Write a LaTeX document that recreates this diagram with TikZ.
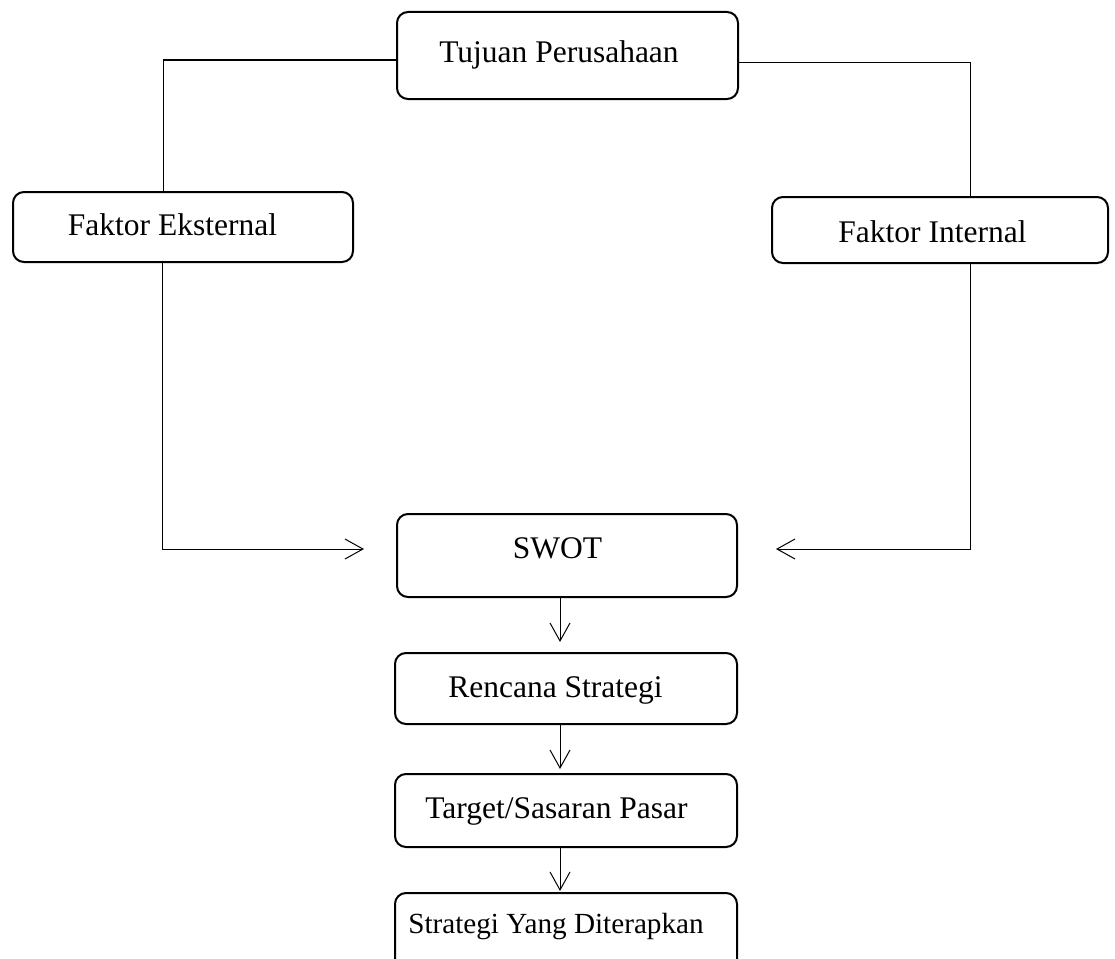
\documentclass[tikz,border=0pt]{standalone}
\usepackage{fontspec}
\setmainfont{Liberation Serif}
\usetikzlibrary{arrows.meta}
\tikzset{
  box/.style={draw, line width=2pt, rounded corners=11pt, inner sep=0pt},
  lbl/.style={anchor=base, inner sep=0pt, font=\fontsize{31.5}{36}\selectfont},
  conn/.style={line width=1pt},
  arr/.style={line width=1pt, -{Straight Barb[length=18pt,width=20pt,line width=1pt]}},
}
\begin{document}
\begin{tikzpicture}[x=1pt,y=-1pt]
\useasboundingbox (0,0) rectangle (1115,958);
\clip (0,0) rectangle (1115,958);
% boxes
\node[box, minimum width=341pt, minimum height=87pt] (top) at (567.5,55.5) {};
\node[box, minimum width=340pt, minimum height=70pt] (ext) at (183,227) {};
\node[box, minimum width=336pt, minimum height=66pt] (int) at (940,230) {};
\node[box, minimum width=340pt, minimum height=83pt] (swot) at (567,555.5) {};
\node[box, minimum width=342pt, minimum height=71pt] (ren) at (566,688.5) {};
\node[box, minimum width=342pt, minimum height=73pt] (tgt) at (566,810.5) {};
\node[box, minimum width=342pt, minimum height=90pt] (str) at (566,938) {};
% labels
\node[lbl] (ttop) at (559,63) {Tujuan Perusahaan};
\node[lbl] (text) at (172.5,235) {Faktor Eksternal};
\node[lbl] (tint) at (932.5,242) {Faktor Internal};
\node[lbl] (tswot) at (557.5,558) {SWOT};
\node[lbl] (tren) at (555.5,697) {Rencana Strategi};
\node[lbl] (ttgt) at (556.5,818) {Target/Sasaran Pasar};
\node[lbl, font=\fontsize{29.2}{34}\selectfont] (tstr) at (556,933) {Strategi Yang Diterapkan};
% coordinates
\coordinate (L1) at (163,60);
\coordinate (R1) at (970,62);
\coordinate (L2) at (162,549);
\coordinate (R2) at (970,549);
\coordinate (V) at (560,0);
% connectors
\draw[conn] (top.west|-L1) -- (L1) -- (L1|-ext.north);
\draw[conn] (top.east|-R1) -- (R1) -- (R1|-int.north);
\draw[arr, shorten >=32pt] (L2|-ext.south) -- (L2) -- (swot.west|-L2);
\draw[arr, shorten >=38pt] (R2|-int.south) -- (R2) -- (swot.east|-R2);
\draw[arr, shorten >=10pt] (V|-swot.south) -- (V|-ren.north);
\draw[arr, shorten >=4pt] (V|-ren.south) -- (V|-tgt.north);
\draw[arr, shorten >=1pt] (V|-tgt.south) -- (V|-str.north);
\end{tikzpicture}
\end{document}
